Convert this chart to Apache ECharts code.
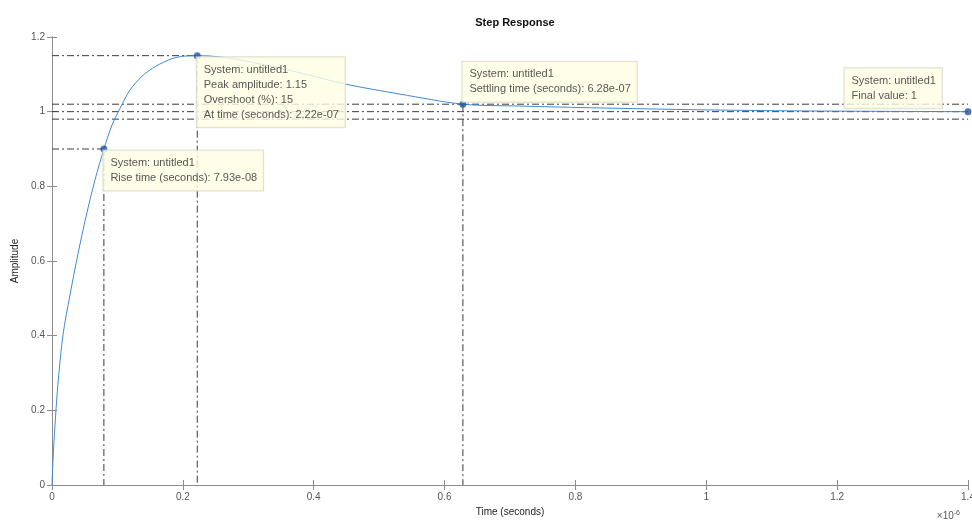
<!DOCTYPE html>
<html>
<head>
<meta charset="utf-8">
<title>Step Response</title>
<script src="https://cdn.jsdelivr.net/npm/echarts@6/dist/echarts.min.js"></script>
<style>
  html, body { margin: 0; padding: 0; background: #fff; }
  #chart { width: 972px; height: 523px; }
</style>
</head>
<body>
<div id="chart"></div>
<script>
// time in units of 1e-6 s (axis shows x10^-6)
const timeUs = [0, 0.0015, 0.0046, 0.0092, 0.0168, 0.0275, 0.0397, 0.0519, 0.0657, 0.0793,
  0.0917, 0.104, 0.1192, 0.1376, 0.159, 0.1834, 0.2033, 0.222, 0.2415, 0.272, 0.318, 0.379,
  0.448, 0.532, 0.628, 0.715, 0.8375, 0.99, 1.143, 1.4];
const amplitude = [0, 0.067, 0.161, 0.273, 0.402, 0.509, 0.619, 0.718, 0.817, 0.9,
  0.964, 1.009, 1.058, 1.095, 1.122, 1.142, 1.149, 1.15, 1.149, 1.143, 1.128, 1.104,
  1.074, 1.047, 1.02, 1.015, 1.01, 1.005, 1.002, 1.0];

const xTicks = [0, 0.2, 0.4, 0.6, 0.8, 1, 1.2, 1.4];
const yTicks = [0, 0.2, 0.4, 0.6, 0.8, 1, 1.2];

// characteristic points: rise, peak, settling, final
const tipTimes = [0.0793, 0.222, 0.628, 1.4];
const tipValues = [0.9, 1.15, 1.02, 1];
const tipTexts = [
  ['System: untitled1', 'Rise time (seconds): 7.93e-08'],
  ['System: untitled1', 'Peak amplitude: 1.15', 'Overshoot (%): 15', 'At time (seconds): 2.22e-07'],
  ['System: untitled1', 'Settling time (seconds): 6.28e-07'],
  ['System: untitled1', 'Final value: 1']
];
// settling band and final value levels
const bandLevels = [1.02, 1, 0.98];

const chart = echarts.init(document.getElementById('chart'));
const FONT = 'Liberation Sans, Arial, sans-serif';

const dashStyle = { color: '#3a3a3a', width: 1, type: [7, 3, 2, 3] };
const segment = (a, b) => ({
  type: 'line',
  data: [a, b],
  symbol: 'none',
  silent: true,
  animation: false,
  lineStyle: dashStyle,
  z: 1
});

const guideSeries = [];
// rise time
guideSeries.push(segment([0, tipValues[0]], [tipTimes[0], tipValues[0]]));
guideSeries.push(segment([tipTimes[0], tipValues[0]], [tipTimes[0], 0]));
// peak
guideSeries.push(segment([0, tipValues[1]], [tipTimes[1], tipValues[1]]));
guideSeries.push(segment([tipTimes[1], tipValues[1]], [tipTimes[1], 0]));
// settling
guideSeries.push(segment([tipTimes[2], tipValues[2]], [tipTimes[2], 0]));
bandLevels.forEach(l => guideSeries.push(segment([0, l], [xTicks[xTicks.length - 1], l])));

// label placement for each data tip
const tipPlace = [
  { position: [3, 5], align: 'left', verticalAlign: 'top' },
  { position: [3, 5], align: 'left', verticalAlign: 'top' },
  { position: [3, 1], align: 'left', verticalAlign: 'bottom' },
  { position: [-120, 0], align: 'left', verticalAlign: 'bottom' }
];

const tipData = tipTimes.map((t, i) => ({
  value: [t, tipValues[i]],
  label: Object.assign({
    show: true,
    formatter: tipTexts[i].join('\n'),
    backgroundColor: '#ffffe4',
    borderColor: '#d6d6c4',
    borderWidth: 1,
    padding: [5, 6, 5, 7],
    color: '#2b2b2b',
    fontSize: 11,
    lineHeight: 15,
    fontFamily: FONT
  }, tipPlace[i])
}));

const axisCommon = {
  type: 'value',
  axisLine: { show: true, lineStyle: { color: '#8c8c8c', width: 1 } },
  axisTick: { show: true, inside: true, length: 5, lineStyle: { color: '#8c8c8c' } },
  splitLine: { show: false },
  axisLabel: { color: '#555', fontSize: 10, fontFamily: FONT }
};

chart.setOption({
  animation: false,
  backgroundColor: '#fff',
  title: {
    text: 'Step Response',
    left: 510,
    top: 12,
    textAlign: 'center',
    textStyle: { fontSize: 11, fontWeight: 'bold', color: '#111', fontFamily: FONT }
  },
  grid: { left: 52, right: 4, top: 37, bottom: 38, outerBoundsMode: 'none', containLabel: false },
  xAxis: [
    Object.assign({}, axisCommon, {
      min: 0, max: 1.4, interval: 0.2,
      axisLabel: Object.assign({}, axisCommon.axisLabel, { margin: 7, formatter: v => String(+v.toFixed(1)) }),
      name: 'Time (seconds)',
      nameLocation: 'middle',
      nameGap: 22,
      nameTextStyle: { color: '#222', fontSize: 10, fontFamily: FONT }
    }),
    Object.assign({}, axisCommon, {
      position: 'top', min: 0, max: 1.4, interval: 0.2,
      axisLabel: { show: false }
    })
  ],
  yAxis: [
    Object.assign({}, axisCommon, {
      min: 0, max: 1.2, interval: 0.2,
      axisLabel: Object.assign({}, axisCommon.axisLabel, { margin: 7, formatter: v => String(+v.toFixed(1)) }),
      name: 'Amplitude',
      nameLocation: 'middle',
      nameGap: 30,
      nameTextStyle: { color: '#222', fontSize: 10, fontFamily: FONT }
    }),
    Object.assign({}, axisCommon, {
      position: 'right', min: 0, max: 1.2, interval: 0.2,
      axisLabel: { show: false }
    })
  ],
  graphic: [{
    type: 'text',
    right: 12,
    bottom: 2,
    style: {
      text: '×10{s|-6}',
      fill: '#555',
      fontSize: 10,
      fontFamily: FONT,
      rich: { s: { fontSize: 7, verticalAlign: 'top', padding: [0, 0, 6, 0], fill: '#555' } }
    }
  }],
  series: guideSeries.concat([
    {
      type: 'line',
      data: timeUs.map((t, i) => [t, amplitude[i]]),
      symbol: 'none',
      smooth: 0.3,
      lineStyle: { color: '#3d8ad6', width: 1 },
      z: 2
    },
    {
      type: 'scatter',
      data: tipData,
      symbol: 'circle',
      symbolSize: 7,
      itemStyle: { color: '#1f55a0' },
      z: 5
    }
  ])
});
</script>
</body>
</html>
